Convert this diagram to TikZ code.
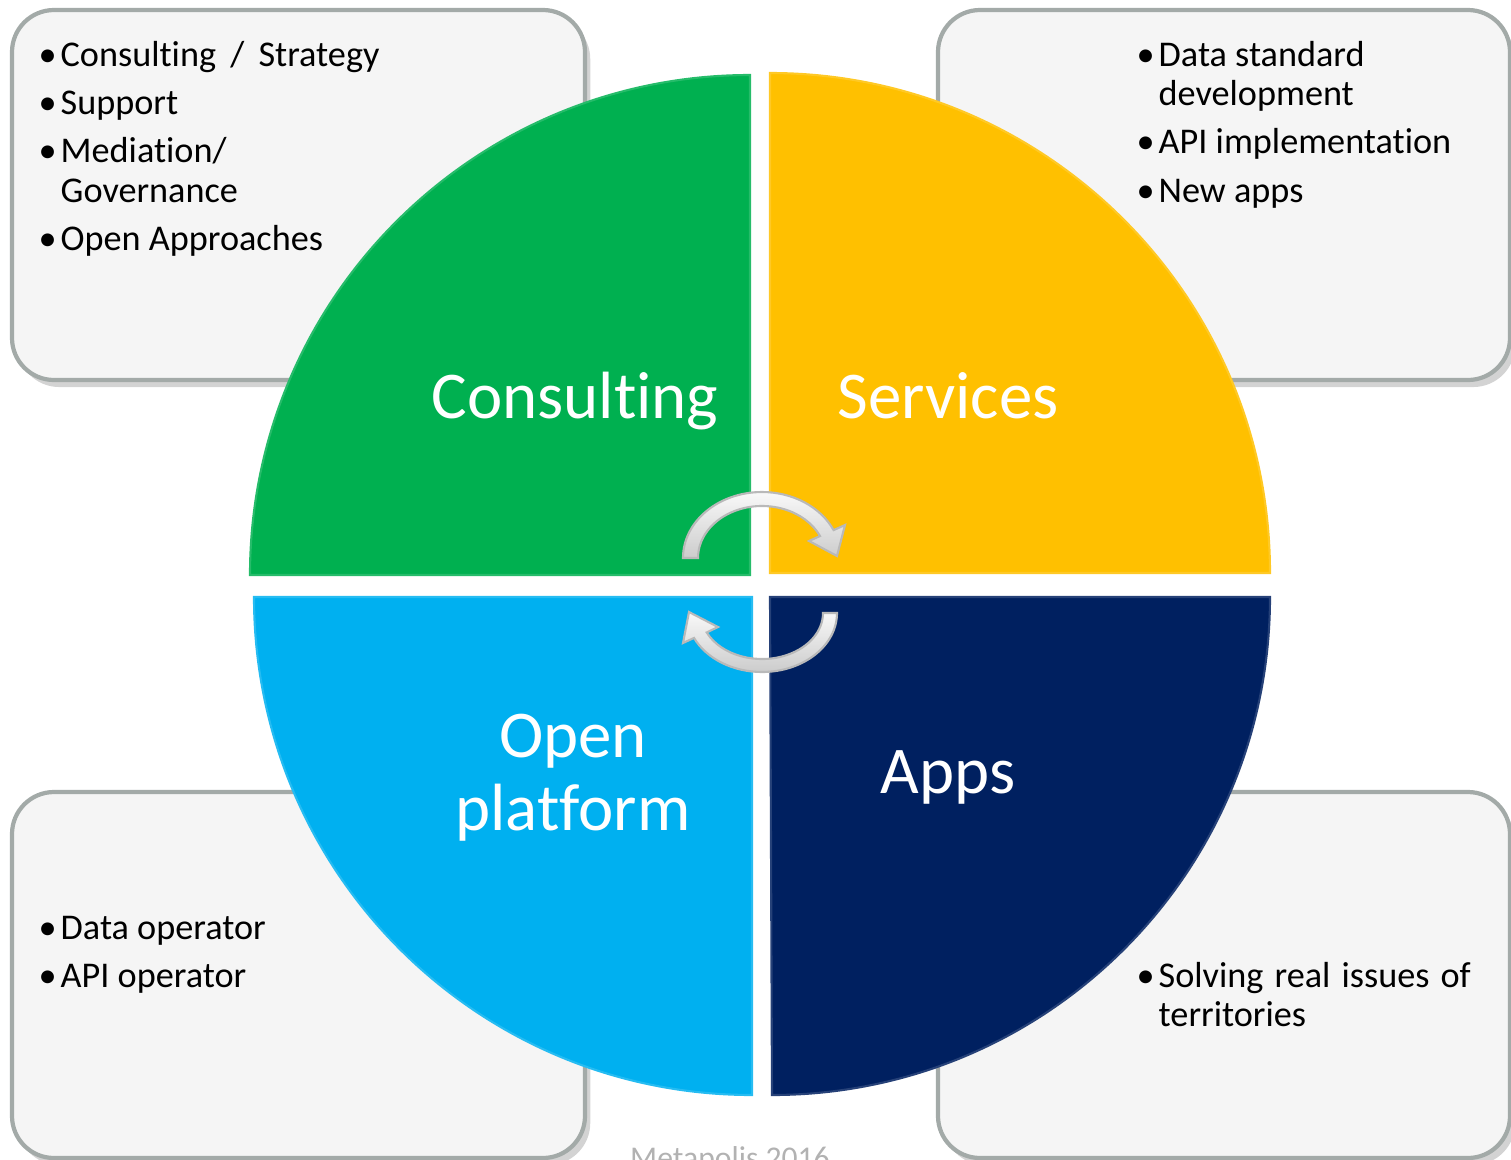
\documentclass[tikz,border=0pt]{standalone}
\usepackage{fontspec}
\setmainfont{Carlito}[Ligatures=NoCommon]
\usetikzlibrary{shadows,positioning}
\definecolor{qgreen}{HTML}{00B050}
\definecolor{qyellow}{HTML}{FFC000}
\definecolor{qblue}{HTML}{00B0F0}
\definecolor{qnavy}{HTML}{002060}
\definecolor{boxfill}{HTML}{F5F5F5}
\definecolor{boxline}{HTML}{A3AAA8}

\begin{document}
\begin{tikzpicture}[x=0.01cm,y=0.01cm,
  infobox/.style={draw=boxline,line width=1.2pt,fill=boxfill,rounded corners=0.42cm,
    drop shadow={shadow xshift=1.5pt,shadow yshift=-2pt,opacity=0.35}},
  quarter/.style={fill=#1,draw=#1!85!white,line width=0.6pt},
  biglabel/.style={text=white,font=\fontsize{19}{20.5}\selectfont,align=center},
  bullets/.style={anchor=base west,inner sep=0pt,font=\fontsize{10.3}{11.3}\selectfont},
  turnarrow/.style={top color=gray!5,bottom color=gray!40,draw=gray!55,line width=0.6pt}]

\useasboundingbox (0,0) rectangle (1511,-1160);

%side boxes
\draw[infobox] (12,-10) rectangle (585,-380);
\draw[infobox] (938,-10) rectangle (1510,-380);
\draw[infobox] (12,-792) rectangle (585,-1158);
\draw[infobox] (938,-792) rectangle (1510,-1158);

\node[bullets] (tllist) at (38,-66) {\begin{tabular}[t]{@{}p{0.22cm}@{}l@{}}
\textbullet & Consulting\,\ /\,\ Strategy\\[2.4pt]
\textbullet & Support\\[2.4pt]
\textbullet & Mediation/\\
 & Governance\\[2.4pt]
\textbullet & Open Approaches
\end{tabular}};
\node[bullets] (trlist) at (1136,-66) {\begin{tabular}[t]{@{}p{0.22cm}@{}l@{}}
\textbullet & Data standard\\
 & development\\[2.4pt]
\textbullet & API implementation\\[2.4pt]
\textbullet & New apps
\end{tabular}};
\node[bullets] (bllist) at (38,-939) {\begin{tabular}[t]{@{}p{0.22cm}@{}l@{}}
\textbullet & Data operator\\[2.4pt]
\textbullet & API operator
\end{tabular}};
\node[bullets] (brlist) at (1136,-987) {\begin{tabular}[t]{@{}p{0.22cm}@{}l@{}}
\textbullet & \makebox[3.12cm][s]{Solving real issues of}\\
 & territories
\end{tabular}};

%circle in four quarters
\draw[quarter=qgreen] (750,-575) -- ++(-500,0) arc[start angle=180,end angle=90,radius=500] -- cycle;
\draw[quarter=qyellow] (770,-573) -- ++(0,500) arc[start angle=90,end angle=0,radius=500] -- cycle;
\draw[quarter=qblue] (752,-597) -- ++(0,-498) arc[start angle=270,end angle=180,radius=498] -- cycle;
\draw[quarter=qnavy] (770,-597) -- ++(500,0) arc[start angle=0,end angle=-90,radius=498] -- cycle;

\node[biglabel,anchor=base] (consult) at (575,-418) {Consulting};
\node[biglabel,anchor=base] (serv) at (948,-418) {Services};
\node[biglabel,anchor=base] (openpf) at (573,-830) {Open\\platform};
\node[biglabel,anchor=base] (apps) at (948,-793) {Apps};

%turn arrows
\draw[turnarrow,shift={(762,-558)}] (180:79 and 66)
  arc[start angle=180,end angle=25,x radius=79,y radius=66]
  -- (83,33) -- (75,2) -- (47,17) -- (25:64 and 52)
  arc[start angle=25,end angle=180,x radius=64,y radius=52] -- cycle;
\draw[turnarrow,shift={(762,-613)}] (0:75 and 59)
  arc[start angle=0,end angle=-155,x radius=75,y radius=59]
  -- (-79,-30) -- (-73,1) -- (-44,-14) -- (-155:61 and 46)
  arc[start angle=-155,end angle=0,x radius=61,y radius=46] -- cycle;

\node[anchor=base,text=gray!60,font=\fontsize{9}{10}\selectfont] (year) at (730,-1168) {Metapolis 2016};

\end{tikzpicture}
\end{document}
